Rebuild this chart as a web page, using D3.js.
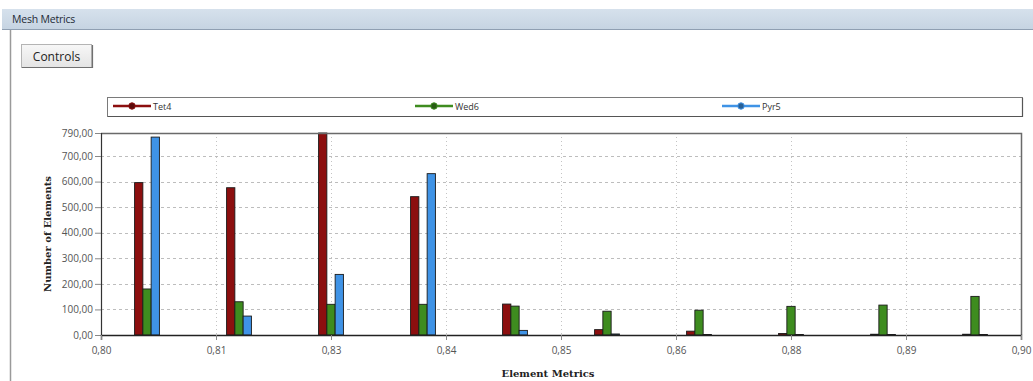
<!DOCTYPE html>
<html>
<head>
<meta charset="utf-8">
<script src="https://cdn.jsdelivr.net/npm/d3@7"></script>
<style>
  html, body { margin: 0; padding: 0; background: #ffffff; }
  svg { display: block; }
</style>
</head>
<body>
<svg id="chart" width="1033" height="381"></svg>
<script>
// Histogram bins (centre of each 0.01-wide element-metric bin)
const binCenters = [0.805, 0.815, 0.825, 0.835, 0.845, 0.855, 0.865, 0.875, 0.885, 0.895];
const seriesNames = ["Tet4", "Wed6", "Pyr5"];
const tet4 = [596, 576, 790, 541, 121, 21, 15, 6, 3, 3];
const wed6 = [180, 130, 120, 120, 113, 93, 97, 112, 117, 151];
const pyr5 = [774, 74, 237, 631, 18, 4, 2, 2, 2, 2];
const seriesColors = ["#8c0f0f", "#3e8c1f", "#3f93e6"];
const yTicks = [0, 100, 200, 300, 400, 500, 600, 700, 790];
const xTicks = [0.8, 0.8125, 0.825, 0.8375, 0.85, 0.8625, 0.875, 0.8875, 0.9];
const xTickLabels = ["0,80", "0,81", "0,83", "0,84", "0,85", "0,86", "0,88", "0,89", "0,90"];

const svg = d3.select("#chart");
const W = 1033, H = 381;

// ---- window chrome ----
const defs = svg.append("defs");
const tg = defs.append("linearGradient").attr("id", "titleGrad").attr("x1", 0).attr("y1", 0).attr("x2", 0).attr("y2", 1);
tg.append("stop").attr("offset", "0%").attr("stop-color", "#d6e1ec");
tg.append("stop").attr("offset", "100%").attr("stop-color", "#c6d4e2");
const bg = defs.append("linearGradient").attr("id", "btnGrad").attr("x1", 0).attr("y1", 0).attr("x2", 0).attr("y2", 1);
bg.append("stop").attr("offset", "0%").attr("stop-color", "#f7f7f7");
bg.append("stop").attr("offset", "100%").attr("stop-color", "#e4e4e4");

svg.append("rect").attr("x", 0).attr("y", 0).attr("width", W).attr("height", H).attr("fill", "#ffffff");
svg.append("rect").attr("x", 2).attr("y", 9).attr("width", W - 2).attr("height", 20).attr("fill", "url(#titleGrad)");
svg.append("line").attr("x1", 2).attr("x2", W).attr("y1", 29.5).attr("y2", 29.5).attr("stroke", "#8f9fb2").attr("stroke-width", 1);
svg.append("text").attr("x", 12).attr("y", 23)
  .attr("font-family", "'Open Sans', 'Noto Sans', sans-serif").attr("font-size", 10.5)
  .attr("letter-spacing", "-0.2").attr("fill", "#1e2a36").text("Mesh Metrics");
// panel left border
svg.append("line").attr("x1", 10.5).attr("x2", 10.5).attr("y1", 30).attr("y2", H).attr("stroke", "#9a9a9a").attr("stroke-width", 1.5);

// Controls button
svg.append("rect").attr("x", 21.5).attr("y", 44.5).attr("width", 70).attr("height", 23)
  .attr("fill", "url(#btnGrad)").attr("stroke", "#b4b4b4");
svg.append("path").attr("d", "M22,67.5 H92.5 V45").attr("fill", "none").attr("stroke", "#707070").attr("stroke-width", 1.2);
svg.append("text").attr("x", 56.5).attr("y", 60.5).attr("text-anchor", "middle")
  .attr("font-family", "'Open Sans', 'Noto Sans', sans-serif").attr("font-size", 12)
  .attr("fill", "#222").text("Controls");

// ---- legend ----
const legend = svg.append("g");
legend.append("rect").attr("x", 107.5).attr("y", 97.5).attr("width", 915).attr("height", 19)
  .attr("fill", "#ffffff").attr("stroke", "#7a7a7a").attr("stroke-width", 1);
legend.append("path").attr("d", "M108,116.5 H1022.5 V98").attr("fill", "none").attr("stroke", "#555").attr("stroke-width", 1.2);
const legendX = [113, 415, 722];
seriesNames.forEach((name, i) => {
  const g = legend.append("g").attr("transform", `translate(${legendX[i]},106)`);
  g.append("line").attr("x1", 0).attr("x2", 38).attr("y1", 0).attr("y2", 0)
    .attr("stroke", seriesColors[i]).attr("stroke-width", 2.5);
  g.append("circle").attr("cx", 19).attr("cy", 0).attr("r", 3.2)
    .attr("fill", d3.color(seriesColors[i]).darker(1.2)).attr("stroke", seriesColors[i]).attr("stroke-width", 1);
  g.append("text").attr("x", 40).attr("y", 3.5)
    .attr("font-family", "'Open Sans', 'Noto Sans', sans-serif").attr("font-size", 9)
    .attr("fill", "#333").text(name);
});

// ---- plot ----
const plot = { left: 101, right: 1021, top: 133, bottom: 335 };
const x = d3.scaleLinear().domain([0.80, 0.90]).range([plot.left, plot.right]);
const y = d3.scaleLinear().domain([0, 790]).range([plot.bottom, plot.top]);

// grid
const grid = svg.append("g");
grid.selectAll("line.h").data(yTicks.filter(v => v > 0 && v < 790)).enter().append("line")
  .attr("x1", plot.left).attr("x2", plot.right)
  .attr("y1", d => Math.round(y(d)) + 0.5).attr("y2", d => Math.round(y(d)) + 0.5)
  .attr("stroke", "#bdbdbd").attr("stroke-width", 1).attr("stroke-dasharray", "3,3");
grid.selectAll("line.v").data(xTicks.slice(1, -1)).enter().append("line")
  .attr("x1", d => Math.round(x(d)) + 0.5).attr("x2", d => Math.round(x(d)) + 0.5)
  .attr("y1", plot.top).attr("y2", plot.bottom)
  .attr("stroke", "#c4c4c4").attr("stroke-width", 1).attr("stroke-dasharray", "1,3");

// bars: Tet4 left of bin centre, Wed6 on it, Pyr5 right
const binW = x(0.81) - x(0.80);
const barW = binW * 0.09;
const series = [tet4, wed6, pyr5];
series.forEach((vals, si) => {
  svg.append("g").selectAll("rect").data(vals).enter().append("rect")
    .attr("x", (d, i) => x(binCenters[i]) + (si - 1) * barW - barW / 2)
    .attr("y", d => y(d))
    .attr("width", barW)
    .attr("height", d => y(0) - y(d))
    .attr("fill", seriesColors[si])
    .attr("stroke", "#1a1a1a").attr("stroke-width", 0.9);
});

// frame: top and right borders
svg.append("path").attr("d", `M${plot.left},${plot.top + 0.5} H${plot.right + 0.5} V${plot.bottom}`)
  .attr("fill", "none").attr("stroke", "#6a6a6a").attr("stroke-width", 1.5);

// axes
const yAxis = d3.axisLeft(y).tickValues(yTicks).tickSize(6)
  .tickFormat(d => d3.format(".2f")(d).replace(".", ","));
const gy = svg.append("g").attr("transform", `translate(${plot.left},0)`).call(yAxis);
gy.select(".domain").attr("stroke", "#333").attr("stroke-width", 1.2);
gy.selectAll(".tick line").attr("stroke", "#888");
gy.selectAll(".tick text").attr("font-family", "'Open Sans', 'Noto Sans', sans-serif")
  .attr("font-size", 10).attr("fill", "#555").attr("x", -8);

const xAxis = d3.axisBottom(x).tickValues(xTicks).tickSize(5)
  .tickFormat((d, i) => xTickLabels[i]);
const gx = svg.append("g").attr("transform", `translate(0,${plot.bottom})`).call(xAxis);
gx.select(".domain").attr("stroke", "#222").attr("stroke-width", 1.4);
gx.selectAll(".tick line").attr("stroke", "#888");
gx.selectAll(".tick text").attr("font-family", "'Open Sans', 'Noto Sans', sans-serif")
  .attr("font-size", 10).attr("fill", "#555").attr("y", 12);

// axis titles
svg.append("text").attr("transform", `translate(51,${(plot.top + plot.bottom) / 2}) rotate(-90)`)
  .attr("text-anchor", "middle")
  .attr("font-family", "'DejaVu Serif', 'Liberation Serif', serif").attr("font-weight", "bold")
  .attr("font-size", 10).attr("fill", "#222").text("Number of Elements");
svg.append("text").attr("x", 548).attr("y", 377).attr("text-anchor", "middle")
  .attr("font-family", "'DejaVu Serif', 'Liberation Serif', serif").attr("font-weight", "bold")
  .attr("font-size", 10).attr("fill", "#222").text("Element Metrics");
</script>
</body>
</html>
